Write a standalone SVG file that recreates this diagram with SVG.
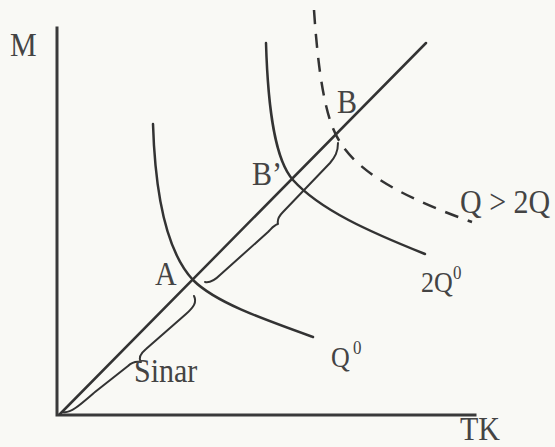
<svg xmlns="http://www.w3.org/2000/svg" width="555" height="447" viewBox="0 0 555 447">
<style>
.bg{fill:#f9f9f5}
.ax{fill:none;stroke:#3a3a3a;stroke-width:3;stroke-linecap:square}
.ln{fill:none;stroke:#333;stroke-width:2.5;stroke-linecap:round}
.br{fill:none;stroke:#333;stroke-width:2;stroke-linecap:round;stroke-linejoin:round}
.ds{fill:none;stroke:#333;stroke-width:2.5;stroke-dasharray:14 10}
.t{font-family:"Liberation Serif","Times New Roman",serif;font-size:30px;fill:#444}
.s{font-family:"Liberation Serif","Times New Roman",serif;font-size:26px;fill:#444}
.sup{font-family:"Liberation Serif","Times New Roman",serif;font-size:17px;fill:#444}
</style>
<rect class="bg" x="0" y="0" width="555" height="447"/>
<g id="axes">
<path class="ax" d="M57,28 L57,415 L475,415"/>
<text class="t" transform="translate(10,56) scale(1,1.15)">M</text>
<text class="t" transform="translate(460,440) scale(1,1.1)">TK</text>
</g>
<g id="connectors">
<path id="sinar-line" class="ln" d="M60,414 L426,43"/>
<path id="q0" class="ln" d="M153,124 C155,190 165,250 193,280 C215,302 260,318 313,337"/>
<path id="q20" class="ln" d="M266,43 C268,110 275,160 293,180 C320,210 370,232 425,254"/>
<path id="qgt" class="ds" d="M314,10 C318,70 325,120 340,142 C360,175 410,200 472,222"/>
<path id="brace1" class="br" d="M63,412 C70,414 80,405 95,392 L128,366 C132,362 136,361 141,362 C138,358 140,354 146,349 L186,314 C194,307 197,302 194,296"/>
<path id="brace2" class="br" d="M205,282 C210,283 214,281 220,275 L268,232 C272,228 274,225 278,224 C277,220 279,216 283,212 L330,163 C335,157 338,152 338,143"/>
</g>
<g id="A"><text class="t" transform="translate(155,285) scale(1,1.15)">A</text></g>
<g id="Bp"><text class="t" transform="translate(252,185) scale(1,1.15)">B’</text></g>
<g id="B"><text class="t" transform="translate(337,113) scale(1,1.15)">B</text></g>
<g id="sinar"><text class="t" transform="translate(134,382) scale(1,1.15)">Sinar</text></g>
<g id="lab-q0"><text class="s" transform="translate(331,367) scale(1,1.15)">Q</text><text class="sup" transform="translate(353,354) scale(1,1.15)">0</text></g>
<g id="lab-2q0"><text class="s" transform="translate(421,292) scale(1,1.15)">2Q</text><text class="sup" transform="translate(453,279) scale(1,1.15)">0</text></g>
<g id="lab-qgt"><text class="t" transform="translate(460,213) scale(1,1.15)">Q &gt; 2Q</text></g>
</svg>
